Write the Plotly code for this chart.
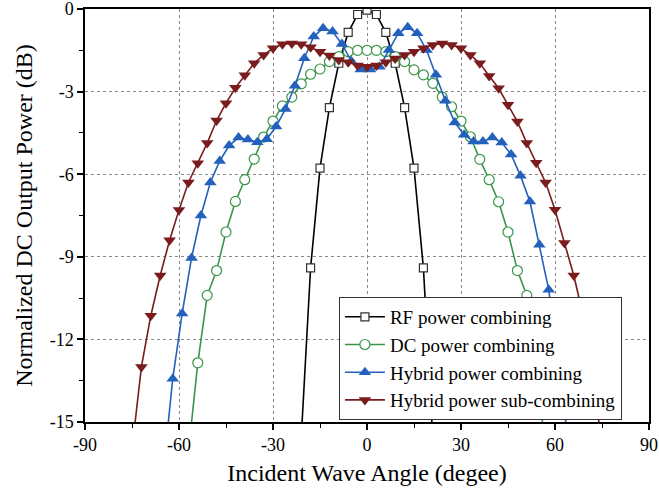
import plotly.graph_objects as go

# ---------------- data ----------------
rf_x = [-21, -18, -15, -12, -9, -6, -3, 0, 3, 6, 9, 12, 15, 18, 21]
rf_y = [-15.6, -9.4, -5.78, -3.58, -1.97, -0.85, -0.2, -0.04, -0.2, -0.85, -1.97, -3.58, -5.78, -9.4, -15.6]

dc_x = [-57, -54, -51, -48, -45, -42, -39, -36, -33, -30, -27, -24, -21, -18, -15, -12, -9, -6, -3,
        0, 3, 6, 9, 12, 15, 18, 21, 24, 27, 30, 33, 36, 39, 42, 45, 48, 51, 54, 57]
dc_y = [-16.1, -12.85, -10.4, -9.5, -8.1, -6.99, -6.2, -5.45, -4.65, -4.07, -3.52, -3.2, -2.72, -2.37, -2.18, -1.91, -1.73, -1.55, -1.5,
        -1.5, -1.5, -1.55, -1.73, -1.91, -2.21, -2.39, -2.7, -3.2, -3.55, -4.07, -4.64, -5.46, -6.2, -7.0, -8.1, -9.5, -10.4, -12.85, -16.1]

hy_x = [-65, -62, -59, -56, -53, -50, -47, -44, -41, -38, -35, -32, -29, -26, -23, -20, -17, -14, -11, -8, -5, -2,
        1, 4, 7, 10, 13, 16, 19, 22, 25, 28, 31, 34, 37, 40, 43, 46, 49, 52, 55, 58, 61, 64]
hy_y = [-16.8, -13.43, -11.06, -9.04, -7.5, -6.3, -5.52, -4.96, -4.67, -4.74, -4.84, -4.73, -4.27, -3.63, -2.79, -1.79, -1.0, -0.7, -0.82, -1.27, -1.9, -2.2,
        -2.2, -2.1, -1.49, -0.88, -0.66, -0.88, -1.49, -2.39, -3.33, -4.12, -4.57, -4.81, -4.81, -4.67, -4.85, -5.28, -6.06, -6.99, -8.56, -10.2, -12.7, -15.5]

sub_x = [-75, -72, -69, -66, -63, -60, -57, -54, -51, -48, -45, -42, -39, -36, -33, -30, -27, -24, -21, -18, -15, -12, -9, -6, -3,
         0, 3, 6, 9, 12, 15, 18, 21, 24, 27, 30, 33, 36, 39, 42, 45, 48, 51, 54, 57, 60, 63, 66, 69, 72, 75]
sub_y = [-16.0, -13.0, -11.14, -9.68, -8.4, -7.3, -6.3, -5.6, -4.87, -4.05, -3.42, -2.86, -2.41, -1.97, -1.67, -1.43, -1.28, -1.25, -1.28, -1.39, -1.55, -1.69, -1.85, -1.93, -2.05,
         -2.1, -2.05, -1.93, -1.8, -1.67, -1.55, -1.43, -1.31, -1.25, -1.31, -1.43, -1.67, -1.97, -2.43, -2.88, -3.48, -4.09, -4.87, -5.58, -6.3, -7.29, -8.5, -9.68, -11.14, -13.0, -16.0]

x_ticks = [-90, -60, -30, 0, 30, 60, 90]
x_tick_text = ["-90", "-60", "-30", "0", "30", "60", "90"]
y_ticks = [0, -3, -6, -9, -12, -15]
y_tick_text = ["0", "-3", "-6", "-9", "-12", "-15"]

names = ["RF power combining", "DC power combining", "Hybrid power combining", "Hybrid power sub-combining"]

# ---------------- styles ----------------
BLACK = "#000000"
GREEN = "#3a9548"
BLUE = "#2361bd"
RED = "#7a1c1e"
FONT = "Liberation Serif"

fig = go.Figure()
fig.add_trace(go.Scatter(x=rf_x, y=rf_y, name=names[0], mode="lines+markers",
                         line=dict(color=BLACK, width=1.6),
                         marker=dict(symbol="square", size=8, color="white",
                                     line=dict(color="#333333", width=1.2))))
fig.add_trace(go.Scatter(x=dc_x, y=dc_y, name=names[1], mode="lines+markers",
                         line=dict(color=GREEN, width=1.6),
                         marker=dict(symbol="circle", size=10, color="white",
                                     line=dict(color=GREEN, width=1.2))))
fig.add_trace(go.Scatter(x=hy_x, y=hy_y, name=names[2], mode="lines+markers",
                         line=dict(color=BLUE, width=1.6),
                         marker=dict(symbol="triangle-up", size=11, color=BLUE)))
fig.add_trace(go.Scatter(x=sub_x, y=sub_y, name=names[3], mode="lines+markers",
                         line=dict(color=RED, width=1.6),
                         marker=dict(symbol="triangle-down", size=11, color=RED)))

axis_font = dict(family=FONT, size=18, color="black")
fig.update_layout(
    width=659, height=501,
    margin=dict(l=85, r=10, t=9, b=79, autoexpand=False),
    paper_bgcolor="white", plot_bgcolor="white",
    font=dict(family=FONT, color="black"),
    showlegend=True,
    legend=dict(x=0.952, y=0.005, xanchor="right", yanchor="bottom",
                bgcolor="white", bordercolor="#333333", borderwidth=1,
                font=dict(family=FONT, size=19, color="black"),
                itemwidth=40, tracegroupgap=0),
    xaxis=dict(range=[-90, 90], tickvals=x_ticks, ticktext=x_tick_text,
               tickfont=axis_font, ticks="outside", ticklen=6, tickwidth=1.5, tickcolor="black",
               ticklabeloverflow="allow",
               minor=dict(dtick=15, ticks="outside", ticklen=4, tickwidth=1.2, tickcolor="black", showgrid=False),
               showline=True, linecolor="black", linewidth=1.5, mirror=True,
               showgrid=True, gridcolor="#888888", griddash="dot", gridwidth=1,
               zeroline=False, automargin=False,
               title=dict(text="Incident Wave Angle (degee)", font=dict(family=FONT, size=24, color="black"),
                          standoff=10)),
    xaxis2=dict(range=[-90, 90], overlaying="x", side="top", anchor="y",
                tickvals=x_ticks, showticklabels=False, automargin=False,
                ticks="inside", ticklen=6, tickwidth=1.5, tickcolor="black",
                minor=dict(dtick=15, ticks="inside", ticklen=4, tickwidth=1.2, tickcolor="black"),
                showgrid=False, zeroline=False, showline=False),
    yaxis=dict(range=[-15, 0], tickvals=y_ticks, ticktext=y_tick_text,
               tickfont=axis_font, ticks="outside", ticklen=6, tickwidth=1.5, tickcolor="black",
               ticklabeloverflow="allow",
               minor=dict(dtick=1.5, ticks="outside", ticklen=4, tickwidth=1.2, tickcolor="black", showgrid=False),
               showline=True, linecolor="black", linewidth=1.5, mirror=True,
               showgrid=True, gridcolor="#888888", griddash="dot", gridwidth=1,
               zeroline=False, automargin=False,
               title=dict(text="Normalized DC Output Power (dB)", font=dict(family=FONT, size=24, color="black"),
                          standoff=10)),
)

# remove the browser's default 8px page margin so the figure sits at the window origin
fig.write_html("out.html", config={"displayModeBar": False},
               post_script="document.body.style.margin='0';")
